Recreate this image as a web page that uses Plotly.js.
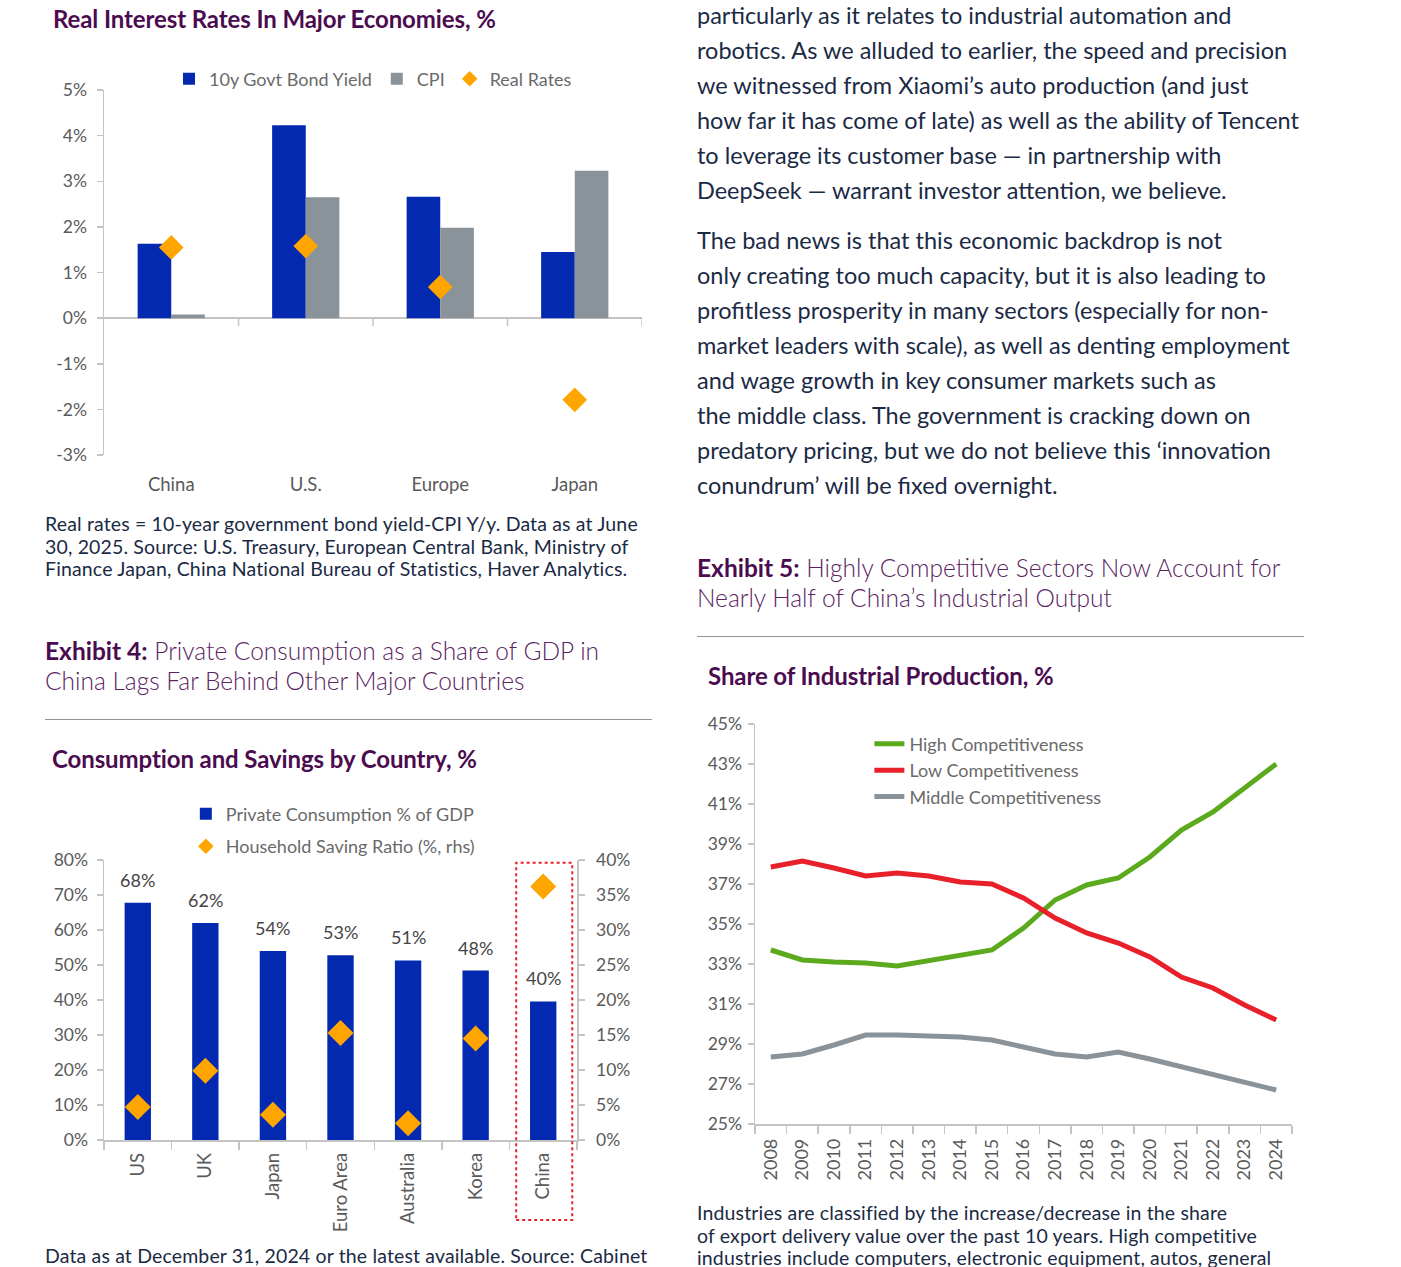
<!DOCTYPE html>
<html><head><meta charset="utf-8">
<script src="https://cdn.plot.ly/plotly-3.0.1.min.js"></script>
<style>
html,body{margin:0;padding:0;background:#fff;}
body{width:1401px;height:1267px;overflow:hidden;position:relative;font-family:Lato,'Open Sans',sans-serif;}
.abs{position:absolute;white-space:nowrap;z-index:2;}
.ctitle{font-weight:700;color:#4b0c4f;font-size:24px;line-height:28px;letter-spacing:-0.1px;}
.para{color:#1b2a44;font-size:23.5px;line-height:35px;}
.caption{color:#1b2a44;font-size:19.5px;line-height:22.5px;letter-spacing:0.15px;}
.exh{color:#5a2361;font-size:24.5px;line-height:30px;font-weight:300;}
.exh b{font-weight:700;color:#4b0c4f;}
.rule{position:absolute;height:1px;background:#8c959b;z-index:2;}
.chart{position:absolute;z-index:1;}
</style></head>
<body>
<div id="c1" class="chart" style="left:40px;top:60px;width:620px;height:450px;"></div>
<div id="c2" class="chart" style="left:40px;top:780px;width:600px;height:487px;"></div>
<div id="c3" class="chart" style="left:690px;top:690px;width:620px;height:577px;"></div>

<div class="abs ctitle" style="left:53px;top:5px;">Real Interest Rates In Major Economies, %</div>
<div class="abs para" style="left:697px;top:-2px;">particularly as it relates to industrial automation and<br>robotics. As we alluded to earlier, the speed and precision<br>we witnessed from Xiaomi’s auto production (and just<br>how far it has come of late) as well as the ability of Tencent<br>to leverage its customer base — in partnership with<br>DeepSeek — warrant investor attention, we believe.</div>
<div class="abs para" style="left:697px;top:223px;">The bad news is that this economic backdrop is not<br>only creating too much capacity, but it is also leading to<br>profitless prosperity in many sectors (especially for non-<br>market leaders with scale), as well as denting employment<br>and wage growth in key consumer markets such as<br>the middle class. The government is cracking down on<br>predatory pricing, but we do not believe this ‘innovation<br>conundrum’ will be fixed overnight.</div>
<div class="abs caption" style="left:45px;top:513px;">Real rates = 10-year government bond yield-CPI Y/y. Data as at June<br>30, 2025. Source: U.S. Treasury, European Central Bank, Ministry of<br>Finance Japan, China National Bureau of Statistics, Haver Analytics.</div>
<div class="abs exh" style="left:697px;top:553px;"><b>Exhibit 5:</b> Highly Competitive Sectors Now Account for<br>Nearly Half of China’s Industrial Output</div>
<div class="rule" style="left:697px;top:636px;width:607px;"></div>
<div class="abs exh" style="left:45px;top:636px;"><b>Exhibit 4:</b> Private Consumption as a Share of GDP in<br>China Lags Far Behind Other Major Countries</div>
<div class="rule" style="left:45px;top:719px;width:607px;"></div>
<div class="abs ctitle" style="left:708px;top:662px;">Share of Industrial Production, %</div>
<div class="abs ctitle" style="left:52px;top:745px;">Consumption and Savings by Country, %</div>
<div class="abs caption" style="left:697px;top:1202px;">Industries are classified by the increase/decrease in the share<br>of export delivery value over the past 10 years. High competitive<br>industries include computers, electronic equipment, autos, general</div>
<div class="abs caption" style="left:45px;top:1245px;">Data as at December 31, 2024 or the latest available. Source: Cabinet</div>

<script>
// ---- Chart 1 data: Real Interest Rates In Major Economies, %
const rrCountries = ['China', 'U.S.', 'Europe', 'Japan'];
const bondYield = [1.63, 4.23, 2.66, 1.45];
const cpi = [0.08, 2.65, 1.98, 3.23];
const realRates = [1.55, 1.58, 0.68, -1.79];
const rrTickVals = [-3, -2, -1, 0, 1, 2, 3, 4, 5];
const rrTickText = ['-3%', '-2%', '-1%', '0%', '1%', '2%', '3%', '4%', '5%'];

// ---- Chart 2 data: Consumption and Savings by Country, %
const consCountries = ['US', 'UK', 'Japan', 'Euro Area', 'Australia', 'Korea', 'China'];
const privateConsumption = [67.8, 62.0, 54.0, 52.8, 51.3, 48.4, 39.6];
const savingRatio = [4.7, 9.9, 3.6, 15.3, 2.4, 14.5, 36.2];

// ---- Chart 3 data: Share of Industrial Production, %
const years = ['2008','2009','2010','2011','2012','2013','2014','2015','2016','2017','2018','2019','2020','2021','2022','2023','2024'];
const highComp = [33.7, 33.2, 33.1, 33.05, 32.9, 33.15, 33.45, 33.7, 34.8, 36.2, 36.95, 37.3, 38.35, 39.7, 40.6, 41.8, 43.0];
const lowComp = [37.85, 38.15, 37.8, 37.4, 37.55, 37.4, 37.1, 37.0, 36.3, 35.3, 34.55, 34.05, 33.35, 32.35, 31.8, 30.95, 30.2];
const midComp = [28.35, 28.5, 28.95, 29.45, 29.45, 29.4, 29.35, 29.2, 28.85, 28.5, 28.35, 28.6, 28.25, 27.85, 27.5, 27.1, 26.7];

const BLUE = '#0329B0', GREY = '#8A9399', ORANGE = '#FFA500';
const GREEN = '#5BAA1E', RED = '#E8202A';
const FONT = 'Lato, "Open Sans", sans-serif';
const TICKC = '#5a5a5a';
const AXC = '#c4c4c4';
const CLEAR = 'rgba(0,0,0,0)';
const cfg = {staticPlot: true, displayModeBar: false};

// ---------- Chart 1 ----------
const boundaryTicks1 = rrCountries.map((c, i) => ({
  type: 'line', xref: 'x', yref: 'y', x0: i + 0.5, x1: i + 0.5,
  ysizemode: 'pixel', yanchor: 0, y0: 0, y1: -8,
  line: {color: AXC, width: 1.5}
}));
Plotly.newPlot('c1', [
  {type: 'bar', name: '10y Govt Bond Yield', x: rrCountries, y: bondYield, marker: {color: BLUE}},
  {type: 'bar', name: 'CPI', x: rrCountries, y: cpi, marker: {color: GREY}},
  {type: 'scatter', mode: 'markers', name: 'Real Rates', x: rrCountries, y: realRates,
   marker: {symbol: 'diamond', color: ORANGE, size: 19}, cliponaxis: false}
], {
  width: 620, height: 450,
  margin: {l: 64, r: 18, t: 30, b: 55, autoexpand: false},
  paper_bgcolor: CLEAR, plot_bgcolor: CLEAR,
  font: {family: FONT, size: 17, color: TICKC},
  barmode: 'group', bargap: 0.5, bargroupgap: 0,
  showlegend: true,
  legend: {orientation: 'h', x: 0.5, xanchor: 'center', y: 1.03, yanchor: 'middle',
           font: {size: 18, color: '#6a6a6a'}, bgcolor: CLEAR, itemsizing: 'constant'},
  xaxis: {type: 'category', range: [-0.5, 3.5], showline: false, ticks: '', showgrid: false,
          zeroline: false, ticklabelstandoff: 16, tickfont: {size: 18.5, color: TICKC}},
  yaxis: {range: [-3, 5], tickvals: rrTickVals, ticktext: rrTickText, showgrid: false,
          showline: true, linecolor: AXC, linewidth: 1.5, ticks: 'outside', ticklen: 6,
          tickcolor: AXC, tickwidth: 1.5, zeroline: true, zerolinecolor: AXC, zerolinewidth: 1.5,
          ticklabelstandoff: 6, tickfont: {size: 17.5, color: TICKC}},
  shapes: boundaryTicks1
}, cfg);

// ---------- Chart 2 ----------
const labels2 = consCountries.map((c, i) => ({
  x: c, y: privateConsumption[i], xref: 'x', yref: 'y', yanchor: 'bottom', yshift: 10,
  text: Math.round(privateConsumption[i]) + '%', showarrow: false,
  font: {family: FONT, size: 18, color: '#444'}
}));
Plotly.newPlot('c2', [
  {type: 'bar', name: 'Private Consumption % of GDP', x: consCountries, y: privateConsumption,
   marker: {color: BLUE}, yaxis: 'y', legendgroup: 'a'},
  {type: 'scatter', mode: 'markers', name: 'Household Saving Ratio (%, rhs)', x: consCountries, y: savingRatio,
   marker: {symbol: 'diamond', color: ORANGE, size: 20}, yaxis: 'y2', cliponaxis: false, legendgroup: 'b'}
], {
  width: 600, height: 487,
  margin: {l: 64, r: 63, t: 80, b: 127, autoexpand: false},
  paper_bgcolor: CLEAR, plot_bgcolor: CLEAR,
  font: {family: FONT, size: 17, color: TICKC},
  bargap: 0.61,
  showlegend: true,
  legend: {orientation: 'v', x: 0.173, xanchor: 'left', y: 1.23, yanchor: 'top',
           font: {size: 18, color: '#6a6a6a'}, bgcolor: CLEAR, itemsizing: 'constant', tracegroupgap: 6},
  xaxis: {type: 'category', range: [-0.5, 6.5], showline: true, linecolor: AXC, linewidth: 1.5,
          ticks: 'outside', tickson: 'boundaries', ticklen: 8, tickcolor: AXC, tickwidth: 1.5,
          tickangle: -90, showgrid: false, ticklabelstandoff: 4, tickfont: {size: 18.5, color: TICKC}},
  yaxis: {range: [0, 80], dtick: 10, ticksuffix: '%', showgrid: false, zeroline: false,
          showline: true, linecolor: AXC, linewidth: 1.5, ticks: 'outside', ticklen: 6,
          tickcolor: AXC, tickwidth: 1.5, ticklabelstandoff: 5, tickfont: {size: 17.5, color: TICKC}},
  yaxis2: {range: [0, 40], dtick: 5, ticksuffix: '%', overlaying: 'y', side: 'right', showgrid: false,
           zeroline: false, showline: true, linecolor: AXC, linewidth: 1.5, ticks: 'outside', ticklen: 6,
           tickcolor: AXC, tickwidth: 1.5, ticklabelstandoff: 8, tickfont: {size: 17.5, color: TICKC}},
  annotations: labels2,
  shapes: [{type: 'rect', xref: 'x', yref: 'paper', x0: 5.6, x1: 6.43, y0: -0.286, y1: 0.99,
            line: {color: RED, width: 2, dash: 'dot'}, fillcolor: CLEAR}]
}, cfg);

// ---------- Chart 3 ----------
Plotly.newPlot('c3', [
  {type: 'scatter', mode: 'lines', name: 'High Competitiveness', x: years, y: highComp,
   line: {color: GREEN, width: 5}},
  {type: 'scatter', mode: 'lines', name: 'Low Competitiveness', x: years, y: lowComp,
   line: {color: RED, width: 5}},
  {type: 'scatter', mode: 'lines', name: 'Middle Competitiveness', x: years, y: midComp,
   line: {color: GREY, width: 5}}
], {
  width: 620, height: 577,
  margin: {l: 65, r: 18, t: 34, b: 143, autoexpand: false},
  paper_bgcolor: CLEAR, plot_bgcolor: CLEAR,
  font: {family: FONT, size: 17, color: TICKC},
  showlegend: true,
  legend: {orientation: 'v', x: 0.213, xanchor: 'left', y: 0.996, yanchor: 'top',
           font: {size: 18, color: '#6a6a6a'}, bgcolor: CLEAR},
  xaxis: {type: 'category', range: [-0.5, 16.5], showline: true, linecolor: AXC, linewidth: 1.5,
          ticks: 'outside', tickson: 'boundaries', ticklen: 8, tickcolor: AXC, tickwidth: 1.5,
          tickangle: -90, showgrid: false, ticklabelstandoff: 6, tickfont: {size: 18, color: TICKC}},
  yaxis: {range: [25, 45], tick0: 25, dtick: 2, ticksuffix: '%', showgrid: false, zeroline: false,
          showline: true, linecolor: AXC, linewidth: 1.5, ticks: 'outside', ticklen: 6,
          tickcolor: AXC, tickwidth: 1.5, ticklabelstandoff: 2, tickfont: {size: 17.5, color: TICKC}}
}, cfg);
</script>
</body></html>
